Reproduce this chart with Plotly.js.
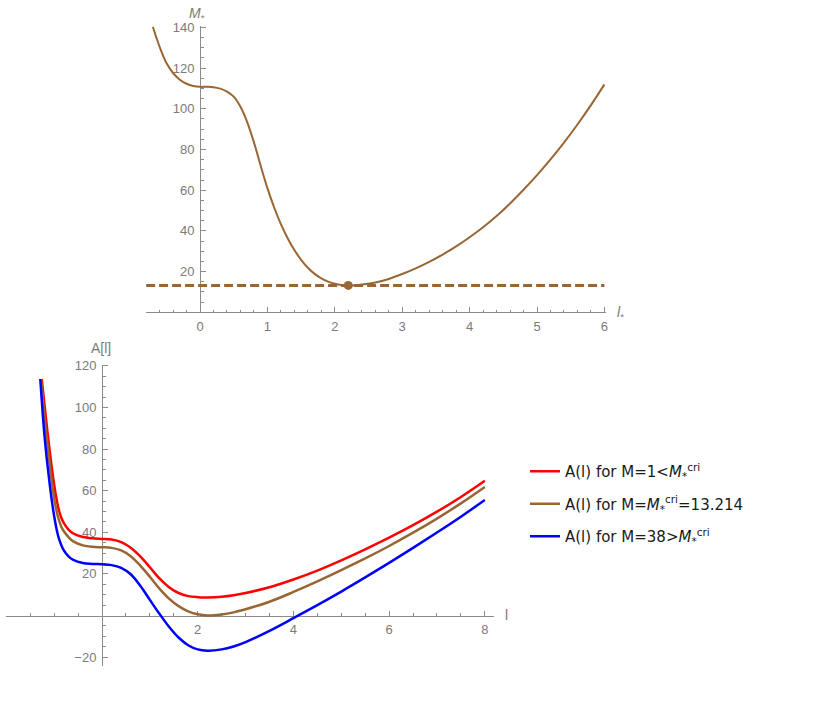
<!DOCTYPE html>
<html>
<head>
<meta charset="utf-8">
<script src="https://cdn.plot.ly/plotly-3.0.1.min.js"></script>
<style>
  html, body { margin: 0; padding: 0; background: #ffffff; }
  #chart { width: 838px; height: 717px; }
</style>
</head>
<body>
<div id="chart"></div>
<script>
// ---- Critical mass curve M*(l) ----
const lStar = [-0.7, -0.6, -0.5, -0.4, -0.3, -0.2, -0.1, 0, 0.1, 0.2, 0.3, 0.4, 0.5, 0.6, 0.7, 0.8, 0.9, 1.0,
  1.1, 1.2, 1.3, 1.4, 1.5, 1.6, 1.7, 1.8, 1.9, 2.0, 2.1, 2.2, 2.3, 2.4, 2.6, 2.8, 3.0, 3.2, 3.4, 3.6, 3.8,
  4.0, 4.2, 4.4, 4.6, 4.8, 5.0, 5.2, 5.4, 5.6, 5.8, 6.0];
const mStar = [140.3, 130.5, 122.6, 117.6, 114.3, 112.3, 111.2, 110.8, 110.8, 110.6, 109.9, 108.5, 106.0, 101.0,
  93.5, 83.5, 72.0, 61.0, 51.5, 43.3, 36.4, 30.6, 25.8, 21.9, 18.9, 16.7, 15.1, 14.0, 13.4, 13.214, 13.3, 13.61,
  14.61, 16.4, 18.8, 21.6, 24.8, 28.4, 32.4, 36.9, 41.8, 47.3, 53.5, 60.2, 67.4, 75.1, 83.4, 92.3, 101.8, 112.0];
// minimum of M*(l)
const lCrit = 2.2;
const mCrit = 13.214;

// ---- A(l) for three masses ----
const lRed = [-1.26, -1.2, -1.1, -1.0, -0.95, -0.9, -0.85, -0.8, -0.7, -0.6, -0.4, -0.2,
  0, 0.2, 0.4, 0.6, 0.8, 1.0, 1.2, 1.4, 1.6, 1.8, 2.0, 2.2, 2.5, 2.75, 3.0, 3.5, 4.0, 4.5, 5.0, 5.5, 6.0, 6.5, 7.0, 7.5, 8.0];
const aRed = [113.7, 101, 80.5, 63, 56, 50.6, 47.0, 44.5, 41.3, 39.4, 37.7, 37.1,
  36.8, 36.5, 35.3, 32.6, 28.4, 23.2, 17.8, 13.6, 10.8, 9.3, 8.8, 8.7, 9.0, 9.7, 10.8, 13.6, 17.3, 21.6, 26.5, 31.8, 37.4, 43.4, 49.9, 57.0, 64.8];

const lBrown = [-1.275, -1.2, -1.1, -1.0, -0.95, -0.9, -0.85, -0.8, -0.7, -0.6, -0.4, -0.2,
  0, 0.2, 0.4, 0.6, 0.8, 1.0, 1.2, 1.4, 1.6, 1.8, 2.0, 2.2, 2.5, 2.75, 3.0, 3.5, 4.0, 4.5, 5.0, 5.5, 6.0, 6.5, 7.0, 7.5, 8.0];
const aBrown = [113.7, 95, 74, 56.5, 50.3, 45.8, 42.7, 40.6, 37.7, 35.6, 33.7, 33.0,
  32.8, 32.5, 31.3, 28.5, 24.0, 18.6, 12.9, 8.1, 4.5, 2.0, 0.55, 0, 0.5, 1.5, 3.0, 6.6, 11.3, 16.4, 21.8, 27.4, 33.4, 39.8, 46.6, 53.9, 61.8];

const lBlue = [-1.29, -1.25, -1.2, -1.15, -1.1, -1.05, -1.0, -0.95, -0.9, -0.8, -0.7, -0.6, -0.4, -0.2,
  0, 0.2, 0.4, 0.6, 0.8, 1.0, 1.2, 1.4, 1.6, 1.8, 2.0, 2.2, 2.5, 2.75, 3.0, 3.5, 4.0, 4.5, 5.0, 5.5, 6.0, 6.5, 7.0, 7.5, 8.0];
const aBlue = [113.7, 100.5, 86, 74.5, 64.5, 55.5, 47.8, 41.6, 37.0, 31.4, 28.4, 26.7, 25.2, 24.8,
  24.6, 24.2, 22.9, 19.8, 14.3, 7.5, 0.8, -5.4, -10.6, -14.3, -16.3, -16.9, -16.3, -14.9, -12.8, -7.4, -1.3, 5.0, 11.5, 18.3, 25.3, 32.5, 39.9, 47.5, 55.5];

const seriesNames = [
  'A(l) for M=1&lt;<i>M</i><sub>*</sub><sup>cri</sup>',
  'A(l) for M=<i>M</i><sub>*</sub><sup>cri</sup>=13.214',
  'A(l) for M=38&gt;<i>M</i><sub>*</sub><sup>cri</sup>'
];

// ---- tick labels ----
const topXTicks = [0, 1, 2, 3, 4, 5, 6];
const topYTicks = [20, 40, 60, 80, 100, 120, 140];
const botXTicks = [2, 4, 6, 8];
const botYTicks = [-20, 20, 40, 60, 80, 100, 120];

// ---- styling ----
const BROWN = '#996633';
const RED = '#ff0000';
const BLUE = '#0000ff';
const AXIS = '#8c8c8c';
const LABEL = '#7a7a7a';
const FONT = 'Liberation Sans, Arial, sans-serif';
const LEGEND_FONT = 'DejaVu Sans, Verdana, sans-serif';

const W = 838, H = 717;
const topXRange = [-0.8, 6.025];
const topYRange = [0, 140.5];
const botXRange = [-2, 8.2];
const botYRange = [-24.1, 120.6];

// minor ticks between the labelled ones (origin left bare, axes cross there)
function minorTicks(lo, hi, step, majors) {
  const out = [];
  for (let i = Math.round(lo / step); i * step <= hi + 1e-9; i++) {
    const v = +(i * step).toFixed(6);
    if (Math.abs(v) > 1e-9 && !majors.some(m => Math.abs(m - v) < 1e-9)) out.push(v);
  }
  return out;
}

function axisStyle(extra) {
  return Object.assign({
    showline: true, linecolor: AXIS, linewidth: 1,
    ticks: 'inside', ticklen: 5, tickwidth: 1, tickcolor: AXIS,
    tickmode: 'array',
    showgrid: false, zeroline: false,
    tickfont: { family: FONT, size: 13, color: LABEL },
    layer: 'below traces',
    fixedrange: true
  }, extra);
}
function minorStyle(vals) {
  return { tickmode: 'array', tickvals: vals, ticks: 'inside', ticklen: 2.5, tickwidth: 1, tickcolor: AXIS, showgrid: false };
}

const traces = [
  { x: lStar, y: mStar, xaxis: 'x', yaxis: 'y', mode: 'lines',
    line: { color: BROWN, width: 2, shape: 'spline', smoothing: 1 }, showlegend: false, hoverinfo: 'skip' },
  { x: [topXRange[0], lStar[lStar.length - 1]], y: [mCrit, mCrit], xaxis: 'x', yaxis: 'y', mode: 'lines',
    line: { color: BROWN, width: 3, dash: '9px,4px' }, showlegend: false, hoverinfo: 'skip' },
  { x: [lCrit], y: [mCrit], xaxis: 'x', yaxis: 'y', mode: 'markers',
    marker: { color: BROWN, size: 9 }, showlegend: false, hoverinfo: 'skip' },
  { x: lRed, y: aRed, xaxis: 'x2', yaxis: 'y2', mode: 'lines', name: seriesNames[0], legendgroup: 'a',
    line: { color: RED, width: 2.5, shape: 'spline', smoothing: 1 }, hoverinfo: 'skip' },
  { x: lBrown, y: aBrown, xaxis: 'x2', yaxis: 'y2', mode: 'lines', name: seriesNames[1], legendgroup: 'b',
    line: { color: BROWN, width: 2.5, shape: 'spline', smoothing: 1 }, hoverinfo: 'skip' },
  { x: lBlue, y: aBlue, xaxis: 'x2', yaxis: 'y2', mode: 'lines', name: seriesNames[2], legendgroup: 'c',
    line: { color: BLUE, width: 2.5, shape: 'spline', smoothing: 1 }, hoverinfo: 'skip' }
];

// pixel placement of the two panels
const px = v => v / W;
const py = v => 1 - v / H;

const layout = {
  width: W, height: H,
  margin: { l: 0, r: 0, t: 0, b: 0, pad: 0 },
  paper_bgcolor: '#ffffff', plot_bgcolor: 'rgba(0,0,0,0)',
  font: { family: FONT, color: LABEL },
  xaxis: axisStyle({
    domain: [px(146.1), px(606.1)], range: topXRange, anchor: 'y',
    tickvals: topXTicks, ticktext: topXTicks.map(String), ticklabelstandoff: 2,
    minor: minorStyle(minorTicks(-0.6, 5.8, 0.2, topXTicks))
  }),
  yaxis: axisStyle({
    domain: [py(312.3), py(26.4)], range: topYRange, anchor: 'free', position: px(200),
    tickvals: topYTicks, ticktext: topYTicks.map(String), ticklabelstandoff: 3,
    minor: minorStyle(minorTicks(5, 135, 5, topYTicks))
  }),
  xaxis2: axisStyle({
    domain: [px(6.3), px(494.4)], range: botXRange, anchor: 'free', position: py(615.5),
    tickvals: botXTicks, ticktext: botXTicks.map(String), ticklabelstandoff: 2,
    minor: minorStyle(minorTicks(-1.5, 8, 0.5, botXTicks))
  }),
  yaxis2: axisStyle({
    domain: [py(665.6), py(364.65)], range: botYRange, anchor: 'free', position: px(102),
    tickvals: botYTicks, ticktext: botYTicks.map(v => v < 0 ? '\u2212' + Math.abs(v) : String(v)), ticklabelstandoff: 3,
    minor: minorStyle(minorTicks(-20, 120, 5, botYTicks))
  }),
  showlegend: true,
  legend: {
    x: px(525), y: py(455), xanchor: 'left', yanchor: 'top',
    font: { family: LEGEND_FONT, size: 15, color: '#1a1a1a' },
    bgcolor: 'rgba(0,0,0,0)', borderwidth: 0,
    traceorder: 'grouped', tracegroupgap: 10, itemclick: false, itemdoubleclick: false
  },
  annotations: [
    { text: '<i>M</i><sub>*</sub>', x: px(197), y: py(14), xref: 'paper', yref: 'paper',
      showarrow: false, xanchor: 'center', yanchor: 'middle', font: { family: FONT, size: 14, color: LABEL } },
    { text: '<i>l</i><sub>*</sub>', x: px(620), y: py(313), xref: 'paper', yref: 'paper',
      showarrow: false, xanchor: 'center', yanchor: 'middle', font: { family: FONT, size: 14, color: LABEL } },
    { text: 'A[l]', x: px(101), y: py(348), xref: 'paper', yref: 'paper',
      showarrow: false, xanchor: 'center', yanchor: 'middle', font: { family: FONT, size: 14, color: LABEL } },
    { text: 'l', x: px(507), y: py(615), xref: 'paper', yref: 'paper',
      showarrow: false, xanchor: 'center', yanchor: 'middle', font: { family: FONT, size: 14, color: LABEL } }
  ]
};

Plotly.newPlot('chart', traces, layout, { staticPlot: true, displayModeBar: false });
</script>
</body>
</html>
